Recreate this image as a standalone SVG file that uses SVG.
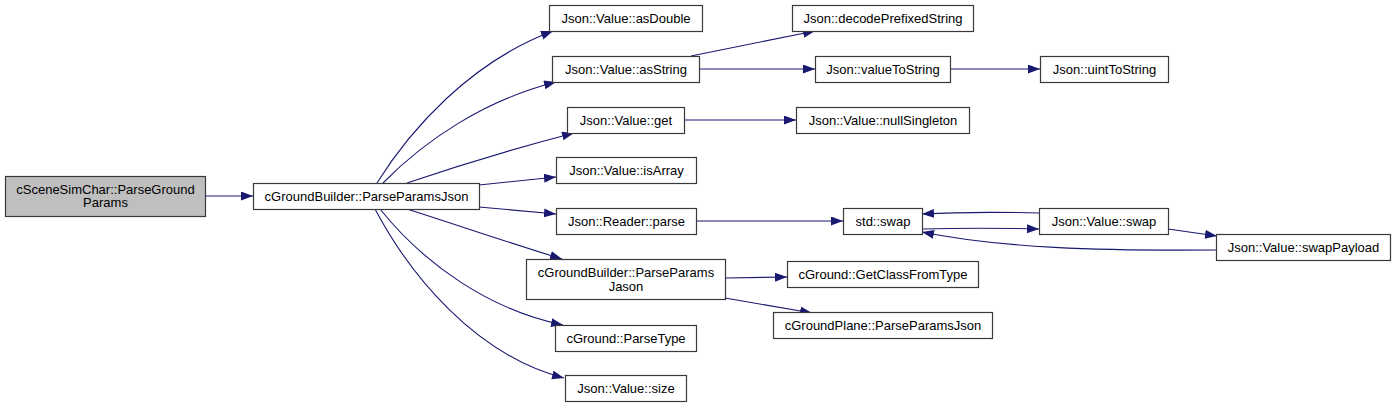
<svg xmlns="http://www.w3.org/2000/svg" width="1396" height="408" viewBox="0 0 1396 408">
<style>
.node rect{fill:#ffffff;stroke:#3a3a3a;stroke-width:1.2}
.node.start rect{fill:#bfbfbf}
.node text{font-family:"Liberation Sans",Arial,sans-serif;font-size:13px;fill:#000;text-anchor:middle}
.edges path{fill:none;stroke:#191970;stroke-width:1.1}
</style>
<defs>
<marker id="arr" markerUnits="userSpaceOnUse" markerWidth="13" markerHeight="10" refX="12" refY="4.5" orient="auto">
<path d="M0,0 L12,4.5 L0,9 z" fill="#191970"/>
</marker>
</defs>
<rect width="1396" height="408" fill="#ffffff"/>
<g class="edges">
<path marker-end="url(#arr)" d="M205,196 L253,196"/>
<path marker-end="url(#arr)" d="M377,183 C410,130 470,62 553,31"/>
<path marker-end="url(#arr)" d="M383,183 C425,140 485,100 556,82"/>
<path marker-end="url(#arr)" d="M407,183 C460,165 520,147 574,133"/>
<path marker-end="url(#arr)" d="M479,185 L556,177"/>
<path marker-end="url(#arr)" d="M479,207 L556,214"/>
<path marker-end="url(#arr)" d="M407,209 C460,226 510,243 562,259"/>
<path marker-end="url(#arr)" d="M380,209 C425,265 490,310 563,325"/>
<path marker-end="url(#arr)" d="M375,209 C410,275 475,355 564,378"/>
<path marker-end="url(#arr)" d="M691,56 L815,31"/>
<path marker-end="url(#arr)" d="M699,69 L815,69"/>
<path marker-end="url(#arr)" d="M950,69 L1040,69"/>
<path marker-end="url(#arr)" d="M684,120 L796,120"/>
<path marker-end="url(#arr)" d="M696,221 L843,221"/>
<path marker-end="url(#arr)" d="M922,229 C960,228 1000,228 1039,229"/>
<path marker-end="url(#arr)" d="M1039,213 C1000,212 960,212 922,214"/>
<path marker-end="url(#arr)" d="M1168,229 L1217,236"/>
<path marker-end="url(#arr)" d="M1216,250 C1100,251 1000,248 922,232"/>
<path marker-end="url(#arr)" d="M725,278 L787,277"/>
<path marker-end="url(#arr)" d="M725,298 L812,313"/>
</g>
<g id="n1" class="node start"><rect x="5.5" y="176.5" width="200" height="40"/><text x="105.5" y="193.5">cSceneSimChar::ParseGround</text><text x="105.5" y="207">Params</text></g>
<g id="n2" class="node"><rect x="253.5" y="183.5" width="226" height="26"/><text x="366.5" y="201">cGroundBuilder::ParseParamsJson</text></g>
<g id="n3" class="node"><rect x="549.5" y="5.5" width="153" height="26"/><text x="626" y="23">Json::Value::asDouble</text></g>
<g id="n4" class="node"><rect x="552.5" y="56.5" width="147" height="26"/><text x="626" y="74">Json::Value::asString</text></g>
<g id="n5" class="node"><rect x="567.5" y="107.5" width="117" height="26"/><text x="626" y="125">Json::Value::get</text></g>
<g id="n6" class="node"><rect x="556.5" y="157.5" width="140" height="26"/><text x="626.5" y="175">Json::Value::isArray</text></g>
<g id="n7" class="node"><rect x="556.5" y="208.5" width="140" height="26"/><text x="626.5" y="226">Json::Reader::parse</text></g>
<g id="n8" class="node"><rect x="526.5" y="259.5" width="199" height="40"/><text x="626" y="276.5">cGroundBuilder::ParseParams</text><text x="626" y="290.5">Jason</text></g>
<g id="n9" class="node"><rect x="555.5" y="325.5" width="141" height="26"/><text x="626" y="343">cGround::ParseType</text></g>
<g id="n10" class="node"><rect x="565.5" y="375.5" width="121" height="26"/><text x="626" y="393">Json::Value::size</text></g>
<g id="n11" class="node"><rect x="792.5" y="5.5" width="181" height="26"/><text x="883" y="23">Json::decodePrefixedString</text></g>
<g id="n12" class="node"><rect x="815.5" y="56.5" width="135" height="26"/><text x="883" y="74">Json::valueToString</text></g>
<g id="n13" class="node"><rect x="1040.5" y="56.5" width="128" height="26"/><text x="1104.5" y="74">Json::uintToString</text></g>
<g id="n14" class="node"><rect x="796.5" y="107.5" width="173" height="26"/><text x="883" y="125">Json::Value::nullSingleton</text></g>
<g id="n15" class="node"><rect x="843.5" y="208.5" width="79" height="26"/><text x="883" y="226">std::swap</text></g>
<g id="n16" class="node"><rect x="1039.5" y="208.5" width="129" height="26"/><text x="1104" y="226">Json::Value::swap</text></g>
<g id="n17" class="node"><rect x="1216.5" y="234.5" width="174" height="26"/><text x="1303.5" y="252">Json::Value::swapPayload</text></g>
<g id="n18" class="node"><rect x="787.5" y="261.5" width="191" height="26"/><text x="883" y="279">cGround::GetClassFromType</text></g>
<g id="n19" class="node"><rect x="773.5" y="312.5" width="219" height="26"/><text x="883" y="330">cGroundPlane::ParseParamsJson</text></g>
</svg>
